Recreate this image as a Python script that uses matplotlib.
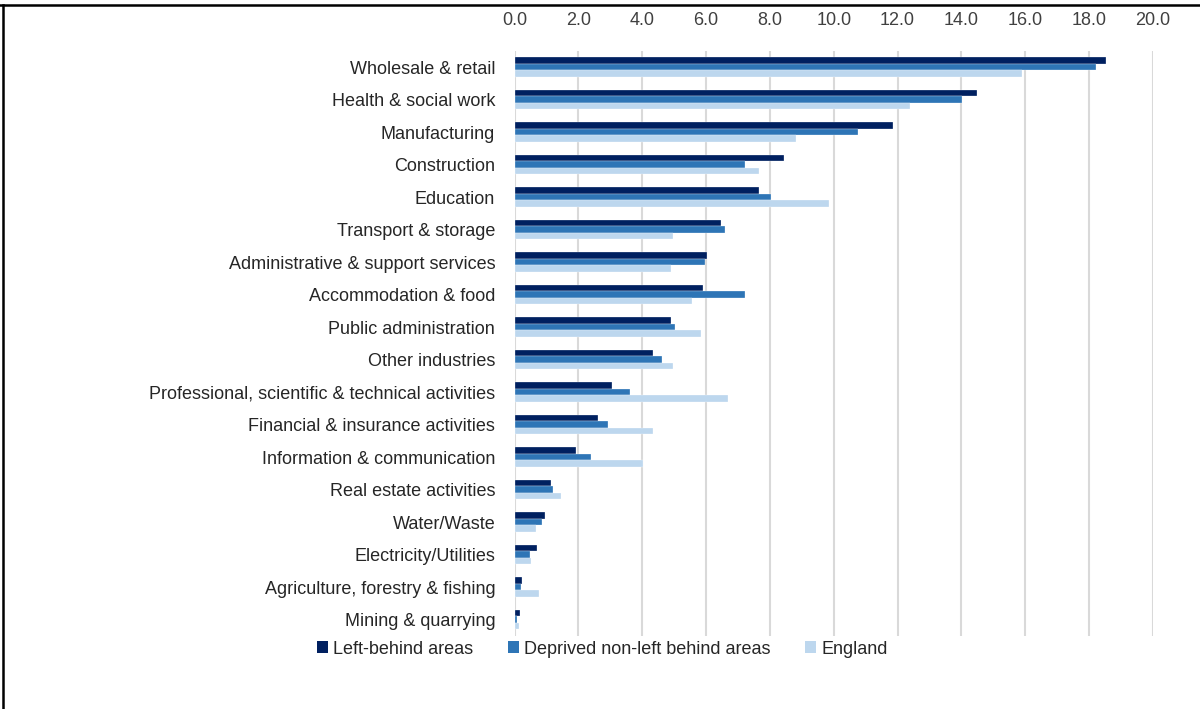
import numpy as np
import matplotlib.pyplot as plt
from matplotlib.patches import Patch
from matplotlib.lines import Line2D

plt.rcParams['font.family'] = ['Liberation Sans', 'DejaVu Sans']

industries = ["Wholesale & retail", "Health & social work", "Manufacturing",
              "Construction", "Education", "Transport & storage",
              "Administrative & support services", "Accommodation & food",
              "Public administration", "Other industries",
              "Professional, scientific & technical activities",
              "Financial & insurance activities", "Information & communication",
              "Real estate activities", "Water/Waste", "Electricity/Utilities",
              "Agriculture, forestry & fishing", "Mining & quarrying"]

left_behind = [18.54, 14.50, 11.86, 8.43, 7.66, 6.47, 6.04, 5.91, 4.90, 4.34,
               3.06, 2.60, 1.93, 1.13, 0.94, 0.70, 0.24, 0.18]
deprived = [18.23, 14.01, 10.75, 7.21, 8.03, 6.60, 5.97, 7.23, 5.02, 4.62,
            3.61, 2.93, 2.39, 1.19, 0.86, 0.49, 0.20, 0.07]
england = [15.91, 12.39, 8.82, 7.66, 9.86, 4.96, 4.90, 5.55, 5.85, 4.96,
           6.68, 4.34, 4.03, 1.44, 0.66, 0.51, 0.76, 0.13]

series = [("Left-behind areas", left_behind, "#002060"),
          ("Deprived non-left behind areas", deprived, "#2e75b6"),
          ("England", england, "#bdd7ee")]

fs = 13

fig = plt.figure(figsize=(12, 7.09), dpi=100)
ax = fig.add_axes([0.4289, 0.103, 0.5317, 0.8254])

y = np.arange(len(industries))
h = 0.2
for k, (name, vals, col) in enumerate(series):
    ax.barh(y + (k - 1) * h, vals, height=h, color=col, edgecolor="white",
            linewidth=0.2, label=name, zorder=3)

ax.set_xlim(0, 20)
ax.set_ylim(len(industries) - 0.5, -0.5)
ax.set_xticks(np.arange(0, 21, 2))
ax.set_xticklabels([f"{v:.1f}" for v in np.arange(0, 21, 2)])
ax.xaxis.tick_top()
ax.set_yticks(y)
ax.set_yticklabels(industries)
ax.tick_params(axis="y", length=0, pad=14, labelsize=fs, labelcolor="#262626")
ax.tick_params(axis="x", length=0, pad=16, labelsize=fs, labelcolor="#404040")
ax.grid(axis="x", color="#d9d9d9", linewidth=1.5, zorder=0)
for s in ax.spines.values():
    s.set_visible(False)

handles = [Patch(facecolor=c, edgecolor="none") for _, _, c in series]
fig.legend(handles, [n for n, _, _ in series], loc="center", ncol=3,
           bbox_to_anchor=(0.502, 0.0846), frameon=False, fontsize=fs,
           handlelength=0.6, handleheight=0.6, handletextpad=0.3,
           columnspacing=1.9, labelcolor="#262626")

# outer frame lines along top and left edge
fig.add_artist(Line2D([0, 1], [1 - 5 / 709, 1 - 5 / 709], color="black",
                      linewidth=1.8, transform=fig.transFigure))
fig.add_artist(Line2D([3 / 1200, 3 / 1200], [0, 1 - 5 / 709], color="black",
                      linewidth=1.8, transform=fig.transFigure))

fig.savefig("out.png", dpi=100)
